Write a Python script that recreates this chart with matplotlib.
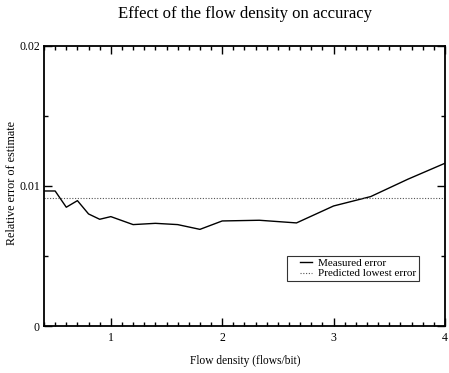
import matplotlib
matplotlib.use("Agg")
import matplotlib.pyplot as plt
import numpy as np
from matplotlib.ticker import MultipleLocator
from matplotlib.legend_handler import HandlerLine2D

plt.rcParams['font.family'] = ['Liberation Serif', 'DejaVu Serif']

density = [0.4, 0.5, 0.6, 0.7, 0.8, 0.9, 1.0, 1.2, 1.4, 1.6, 1.8, 2.0,
           2.333, 2.667, 3.0, 3.333, 3.667, 4.0]
measured = [0.00964, 0.00964, 0.00848, 0.00895, 0.00800, 0.00762, 0.00781,
            0.00724, 0.00733, 0.00724, 0.00690, 0.00750, 0.00755, 0.00736,
            0.00857, 0.00924, 0.01048, 0.01162]
predicted = 0.00917

x_ticks = [1, 2, 3, 4]
y_ticks = [0, 0.01, 0.02]
y_tick_labels = ['0', '0.01', '0.02']


class ShortLineHandler(HandlerLine2D):
    def get_xdata(self, legend, xdescent, ydescent, width, height, fontsize):
        x = np.array([-xdescent + width * 0.42, -xdescent + width])
        return x, x


fig = plt.figure(figsize=(4.49, 3.73), dpi=100)
ax = fig.add_axes([0.098, 0.126, 0.893, 0.751])

l1, = ax.plot(density, measured, color='black', linewidth=1.0, label='Measured error')
l2 = ax.axhline(predicted, color='#555555', linestyle=(0, (1, 1.5)), linewidth=0.8,
                label='Predicted lowest error')

ax.set_xlim(0.4, 4.0)
ax.set_ylim(0, 0.02)
ax.set_xticks(x_ticks)
ax.set_yticks(y_ticks)
ax.set_yticklabels(y_tick_labels)
ax.xaxis.set_minor_locator(MultipleLocator(0.1))
ax.yaxis.set_minor_locator(MultipleLocator(0.005))

ax.tick_params(which='both', direction='in', top=True, right=True,
               labelsize=8.5, width=1.0)
ax.tick_params(axis='y', which='both', pad=3)
ax.tick_params(axis='x', which='both', pad=4.5)
ax.tick_params(which='major', length=6)
ax.tick_params(which='minor', length=3)
for s in ax.spines.values():
    s.set_linewidth(1.3)

fig.text(245 / 449, 1 - 361 / 373, 'Flow density (flows/bit)', fontsize=8.3,
         ha='center', va='center')
fig.text(12 / 449, 1 - 183 / 373, 'Relative error of estimate', fontsize=8.7,
         rotation=90, ha='center', va='center')
fig.text(245 / 449, 1 - 14 / 373, 'Effect of the flow density on accuracy',
         fontsize=12, ha='center', va='center')

leg = ax.legend(handles=[l1, l2], loc='lower right', bbox_to_anchor=(0.935, 0.16),
                fontsize=8, frameon=True, fancybox=False, edgecolor='black',
                handlelength=2.0, borderpad=0.25, labelspacing=0.05,
                handletextpad=0.5, borderaxespad=0,
                handler_map={l1: ShortLineHandler(), l2: ShortLineHandler()})
leg.get_frame().set_linewidth(0.8)

fig.savefig('out.png', dpi=100)
